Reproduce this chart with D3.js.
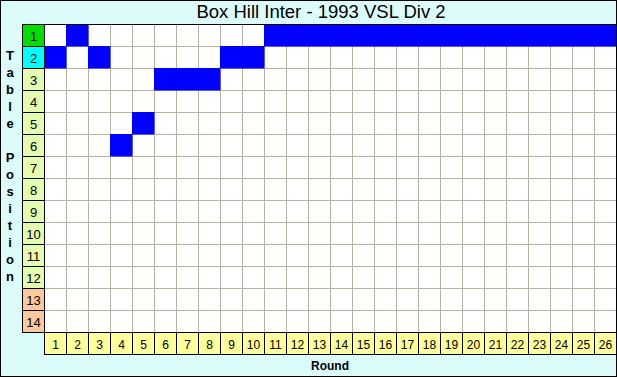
<!DOCTYPE html>
<html><head><meta charset="utf-8">
<script src="https://cdn.jsdelivr.net/npm/d3@7"></script>
<style>body{margin:0;padding:0;background:#fff}svg{display:block}</style>
</head><body>
<script>
const title = "Box Hill Inter - 1993 VSL Div 2";
const rounds = d3.range(1, 27);
const positions = d3.range(1, 15);
const ladderPos = [2,1,2,6,5,3,3,3,2,2,1,1,1,1,1,1,1,1,1,1,1,1,1,1,1,1];
const yLabel = "Table Position";
const xLabel = "Round";

const W = 617, H = 377;
const svg = d3.select("body").append("svg").attr("width", W).attr("height", H);
svg.append("rect").attr("x",0.5).attr("y",0.5).attr("width",W-1).attr("height",H-1)
  .attr("fill","#dcfcfc").attr("stroke","#000");

const x = d3.scaleBand().domain(rounds).range([44, 616]);
const y = d3.scaleBand().domain(positions).range([24, 332]);

svg.append("text").attr("x", 321).attr("y", 18).attr("text-anchor","middle")
  .attr("font-family","Arial, 'Liberation Sans', sans-serif").attr("font-size",18.5).text(title);

// plot background
svg.append("rect").attr("x",44).attr("y",24).attr("width",572).attr("height",308).attr("fill","#fff");
// grid lines
const g = svg.append("g");
rounds.slice(1).forEach(r => g.append("line").attr("x1",x(r)+0.5).attr("x2",x(r)+0.5).attr("y1",24).attr("y2",332).attr("stroke","#b8b4a4"));
positions.slice(1).forEach(p => g.append("line").attr("y1",y(p)+0.5).attr("y2",y(p)+0.5).attr("x1",44).attr("x2",616).attr("stroke","#b8b4a4"));

// cells
svg.append("g").selectAll("rect").data(ladderPos).join("rect")
  .attr("x",(d,i)=>x(rounds[i])).attr("y",d=>y(d))
  .attr("width",x.bandwidth()+0.5).attr("height",y.bandwidth()+0.5).attr("fill","#0000ff");

// row labels
function rowColor(p){ if(p===1) return "#00dd00"; if(p===2) return "#00ffff"; if(p>=13) return "#fcc89c"; return "#e4fcb0"; }
const rl = svg.append("g");
positions.forEach(p => {
  rl.append("rect").attr("x",22.5).attr("y",y(p)+0.5).attr("width",22).attr("height",y.bandwidth())
    .attr("fill",rowColor(p)).attr("stroke","#000");
  rl.append("text").attr("x",33.5).attr("y",y(p)+16.5).attr("text-anchor","middle")
    .attr("font-family","Arial, 'Liberation Sans', sans-serif").attr("font-size",13).text(p);
});
// column labels
const cl = svg.append("g");
rounds.forEach(r => {
  cl.append("rect").attr("x",x(r)+0.5).attr("y",332.5).attr("width",x.bandwidth()).attr("height",22)
    .attr("fill","#ffff9c").attr("stroke","#000");
  cl.append("text").attr("x",x(r)+11.5).attr("y",348.5).attr("text-anchor","middle")
    .attr("font-family","Arial, 'Liberation Sans', sans-serif").attr("font-size",12).text(r);
});
// grid border
svg.append("rect").attr("x",44.5).attr("y",24.5).attr("width",572).attr("height",308).attr("fill","none").attr("stroke","#000");
svg.append("line").attr("x1",22).attr("x2",616).attr("y1",24.5).attr("y2",24.5).attr("stroke","#000");

// y label vertical letters
const letters = yLabel.split("");
const yl = svg.append("g").attr("font-family","Arial, 'Liberation Sans', sans-serif").attr("font-size",13).attr("font-weight","bold");
letters.forEach((ch,i)=>{
  if(ch===" ") return;
  yl.append("text").attr("x",10).attr("y",60 + i*17).attr("text-anchor","middle").text(ch);
});
svg.append("text").attr("x",330).attr("y",370).attr("text-anchor","middle")
  .attr("font-family","Arial, 'Liberation Sans', sans-serif").attr("font-size",12).attr("font-weight","bold").text(xLabel);
</script>
</body></html>
